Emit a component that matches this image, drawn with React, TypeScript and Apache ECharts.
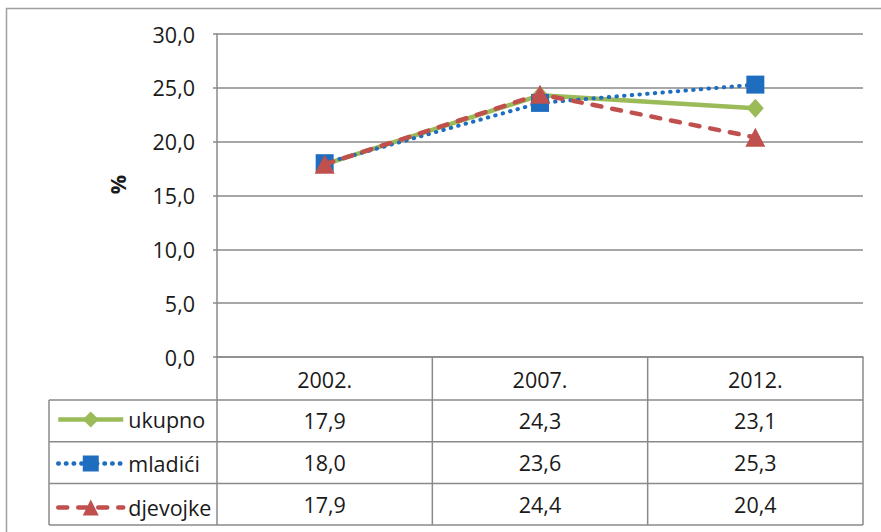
import React, { useEffect, useRef } from "react";
import * as echarts from "echarts";

const years = ["2002.", "2007.", "2012."];
const seriesNames = ["ukupno", "mladići", "djevojke"];
const ukupno = [17.9, 24.3, 23.1];
const mladici = [18.0, 23.6, 25.3];
const djevojke = [17.9, 24.4, 20.4];
const yMin = 0;
const yMax = 30;
const yStep = 5;

const GREEN = "#9BBB59";
const BLUE = "#1F6DBF";
const RED = "#C0504D";
const GRID = "#8a8a8a";
const TEXT = "#1a1a1a";
const FONT = "'Open Sans', 'Noto Sans', sans-serif";
const FS = 21.5;

const fmt = (v: number) => v.toFixed(1).replace(".", ",");

export default function App() {
  const ref = useRef<HTMLDivElement>(null);
  useEffect(() => {
    if (!ref.current) return;
    const chart = echarts.init(ref.current, undefined, { renderer: "svg" });
    const allSeries = [ukupno, mladici, djevojke];
    const option: any = {
      animation: false,
      backgroundColor: "#ffffff",
      grid: { left: 217, right: 18, top: 34, bottom: 175, containLabel: false },
      xAxis: {
        type: "category",
        data: years,
        boundaryGap: true,
        axisLine: { show: true, lineStyle: { color: GRID, width: 1.5 } },
        axisTick: { show: false },
        axisLabel: {
          show: true,
          margin: 11,
          fontSize: FS,
          lineHeight: 22,
          color: TEXT,
          fontFamily: FONT,
        },
        splitLine: { show: false },
      },
      yAxis: {
        type: "value",
        min: yMin,
        max: yMax,
        interval: yStep,
        axisLine: { show: true, lineStyle: { color: GRID, width: 1.5 } },
        axisTick: { show: true, inside: false, length: 4, lineStyle: { color: GRID, width: 1.5 } },
        axisLabel: {
          margin: 22,
          fontSize: FS,
          color: TEXT,
          fontFamily: FONT,
          formatter: (v: number) => fmt(v),
        },
        splitLine: { show: true, lineStyle: { color: GRID, width: 1.5 } },
      },
      legend: {
        show: true,
        orient: "vertical",
        left: 56,
        top: 408.5,
        padding: 0,
        itemWidth: 65,
        itemHeight: 20,
        itemGap: 22,
        data: seriesNames,
        lineStyle: { width: 4.5 },
        textStyle: { fontSize: FS, lineHeight: 20, color: TEXT, fontFamily: FONT },
      },
      series: [
        {
          name: seriesNames[0],
          type: "line",
          data: ukupno,
          symbol: "diamond",
          symbolSize: [17, 19],
          itemStyle: { color: GREEN },
          lineStyle: { color: GREEN, width: 4.5, type: "solid" },
          z: 2,
        },
        {
          name: seriesNames[1],
          type: "line",
          data: mladici,
          symbol: "rect",
          symbolSize: 18,
          itemStyle: { color: BLUE },
          lineStyle: { color: BLUE, width: 4, type: [0.5, 7.2], cap: "round" },
          z: 3,
        },
        {
          name: seriesNames[2],
          type: "line",
          data: djevojke,
          symbol: "triangle",
          symbolSize: [20, 19],
          itemStyle: { color: RED },
          lineStyle: { color: RED, width: 4.5, type: [9, 11], cap: "round" },
          z: 4,
        },
      ],
    };
    chart.setOption(option);

    // Build the data table from the library's scales
    const centers = years.map((_, i) => chart.convertToPixel({ xAxisIndex: 0 }, i) as number);
    const band = centers.length > 1 ? centers[1] - centers[0] : 200;
    const xEdges = [centers[0] - band / 2, ...centers.map((c) => c + band / 2)];
    const yBase = chart.convertToPixel({ yAxisIndex: 0 }, yMin) as number;
    const yTop = chart.convertToPixel({ yAxisIndex: 0 }, yMax) as number;
    const headerH = 43;
    const rowH = 41.7;
    const labelLeft = 49;
    const rowTops = seriesNames.map((_, i) => yBase + headerH + i * rowH);
    const tableBottom = yBase + headerH + seriesNames.length * rowH;
    const lineStyle = { stroke: GRID, lineWidth: 1.5 };

    const graphics: any[] = [];
    graphics.push({
      type: "rect",
      silent: true,
      shape: { x: 6.5, y: 8.5, width: 2000, height: 2000 },
      style: { fill: "none", stroke: "#a0a0a0", lineWidth: 1.5 },
      z: 0,
    });
    [...rowTops, tableBottom].forEach((y) => {
      graphics.push({
        type: "line",
        silent: true,
        shape: { x1: labelLeft, y1: y, x2: xEdges[xEdges.length - 1], y2: y },
        style: lineStyle,
      });
    });
    xEdges.forEach((x) => {
      graphics.push({
        type: "line",
        silent: true,
        shape: { x1: x, y1: yBase, x2: x, y2: tableBottom },
        style: lineStyle,
      });
    });
    graphics.push({
      type: "line",
      silent: true,
      shape: { x1: labelLeft, y1: rowTops[0], x2: labelLeft, y2: tableBottom },
      style: lineStyle,
    });
    allSeries.forEach((vals, r) => {
      vals.forEach((v, c) => {
        graphics.push({
          type: "text",
          silent: true,
          x: centers[c],
          y: rowTops[r] + rowH / 2,
          style: {
            text: fmt(v),
            fontSize: FS,
            fontFamily: FONT,
            fill: TEXT,
            align: "center",
            verticalAlign: "middle",
          },
        });
      });
    });
    graphics.push({
      type: "text",
      silent: true,
      x: 117,
      y: (yTop + yBase) / 2 - 11,
      rotation: Math.PI / 2,
      style: {
        text: "%",
        fontSize: FS,
        fontWeight: "bold",
        fontFamily: FONT,
        fill: TEXT,
        align: "center",
        verticalAlign: "middle",
      },
    });
    chart.setOption({ graphic: graphics });

    return () => chart.dispose();
  }, []);

  return (
    <div
      ref={ref}
      style={{ position: "absolute", left: 0, top: 0, width: 881, height: 532 }}
    />
  );
}
